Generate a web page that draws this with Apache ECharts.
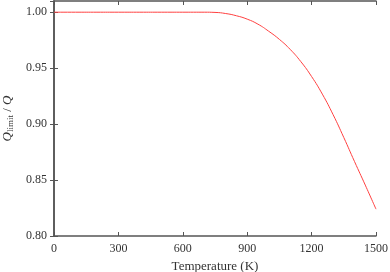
<!DOCTYPE html>
<html><head><meta charset="utf-8">
<script src="https://cdn.jsdelivr.net/npm/echarts@6/dist/echarts.min.js"></script>
<style>html,body{margin:0;padding:0;background:#fff}#c{width:390px;height:272px}</style>
</head><body><div id="c"></div>
<script>
const temperatures = [0,100,200,300,400,500,600,650,700,750,800,850,900,950,1000,1050,1100,1150,1200,1250,1300,1350,1400,1450,1500];
const qRatio = [1.000,1.000,1.000,1.000,1.000,1.000,1.000,1.000,1.000,0.9998,0.9988,0.9968,0.9938,0.9893,0.9830,0.9757,0.9668,0.9558,0.9425,0.9268,0.9085,0.8880,0.8665,0.8455,0.8240];
const xTicks = [0,300,600,900,1200,1500];
const yTicks = [0.80,0.85,0.90,0.95,1.00];

const font = 'Liberation Serif';
const axisCol = '#555';
const chart = echarts.init(document.getElementById('c'), null, {renderer:'canvas'});
const common = {
  axisLine:{show:true,lineStyle:{color:axisCol,width:1.5}},
  axisTick:{show:true,inside:true,length:4,lineStyle:{color:axisCol,width:1}},
  splitLine:{show:false}
};
chart.setOption({
  animation:false,
  grid:{left:54,right:14,top:1,bottom:36,containLabel:false,outerBoundsMode:'none'},
  xAxis:[
    Object.assign({type:'value',min:0,max:1500,interval:300,position:'bottom',
      name:'Temperature (K)',nameLocation:'middle',nameGap:22,
      nameTextStyle:{fontFamily:font,fontSize:13,color:'#333'},
      axisLabel:{fontFamily:font,fontSize:12,color:'#333',margin:7,
        formatter:v=>xTicks.includes(v)?String(v):''}},common),
    Object.assign({type:'value',min:0,max:1500,interval:300,position:'top',axisLabel:{show:false}},common)
  ],
  yAxis:[
    Object.assign({type:'value',min:0.8,max:1.01,interval:0.05,position:'left',
      name:'{i|Q}{s|limit}{n| / }{i|Q}',nameLocation:'middle',nameGap:38,nameRotate:90,
      nameTextStyle:{fontFamily:font,color:'#333',
        rich:{i:{fontFamily:font,fontStyle:'italic',fontSize:13,color:'#333'},
              s:{fontFamily:font,fontSize:9,color:'#333',verticalAlign:'bottom',padding:[6,0,0,0]},
              n:{fontFamily:font,fontSize:13,color:'#333'}}},
      axisLabel:{fontFamily:font,fontSize:12,color:'#333',margin:7,showMaxLabel:false,
        formatter:v=>yTicks.some(t=>Math.abs(t-v)<1e-6)?v.toFixed(2):''}},common),
    Object.assign({type:'value',min:0.8,max:1.01,interval:0.05,position:'right',axisLabel:{show:false}},common)
  ],
  series:[{
    type:'line',xAxisIndex:0,yAxisIndex:0,smooth:true,showSymbol:false,
    data:temperatures.map((t,i)=>[t,qRatio[i]]),
    lineStyle:{color:'#ff4040',width:1}
  }]
});
</script></body></html>
